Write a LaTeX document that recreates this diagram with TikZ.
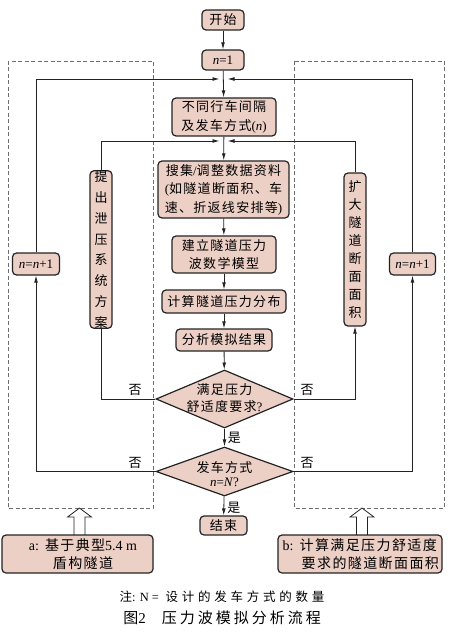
\documentclass[tikz,border=0pt]{standalone}
\usepackage{fontspec}
\setmainfont{Noto Sans CJK SC}[LetterSpace=10]
\newfontfamily\lat{Liberation Serif}
\newfontfamily\cjkplain{Noto Sans CJK SC}
\usetikzlibrary{arrows.meta,shapes.geometric}
\definecolor{boxfill}{RGB}{236,207,197}
\definecolor{lncol}{RGB}{35,35,35}
\definecolor{dashcol}{RGB}{110,110,110}
\newcommand\tr[1]{{\lat #1}}
\newcommand\vchars[2]{\vbox{\baselineskip=#1pt\lineskiplimit=-10pt\def\do##1{\hbox to 13pt{\hss##1\hss}}#2}}
\begin{document}
\begin{tikzpicture}[x=1pt,y=-1pt,
  box/.style={draw=lncol, line width=1.2pt, fill=boxfill, rounded corners=4pt, inner sep=0pt, align=center, font=\fontsize{13}{18.5}\selectfont},
  vbox/.style={draw=lncol, line width=1.2pt, fill=boxfill, rounded corners=4pt, inner sep=0pt, minimum width=22pt, minimum height=153pt, font=\cjkplain\fontsize{13}{18}\selectfont},
  dia/.style={draw=lncol, line width=1.2pt, fill=boxfill, shape=diamond, inner sep=0pt},
  lbl/.style={inner sep=0pt, align=center, font=\fontsize{13}{17}\selectfont},
  wire/.style={draw=lncol, line width=0.8pt},
  ar/.style={wire, -{Latex[length=7pt,width=3.8pt]}},
  dashbox/.style={draw=dashcol, line width=0.8pt, dash pattern=on 4pt off 2.5pt},
  hollow/.style={draw=lncol, line width=0.8pt, fill=white, line join=miter}
]
\useasboundingbox (0,0) rectangle (449,636);

% dashed frames
\draw[dashbox] (8,61) rectangle (153,508);
\draw[dashbox] (294,61) rectangle (444,508);

% main column
\node[box, minimum width=42pt, minimum height=20pt] (start) at (223,20) {开始};
\node[box, minimum width=42pt, minimum height=20pt] (n1) at (223,60) {\tr{\textit{n}=1}};
\node[box, minimum width=104pt, minimum height=38pt] (b1) at (224,117) {不同行车间隔\\及发车方式\tr{(\textit{n})}};
\node[box, minimum width=131pt, minimum height=57pt] (b2) at (223.5,189.5) {搜集\tr{/}调整数据资料\\\tr{(}如隧道断面积、车\\速、折返线安排等\tr{)}};
\node[box, minimum width=104pt, minimum height=37pt] (b3) at (224,254.5) {建立隧道压力\\波数学模型};
\node[box, minimum width=124pt, minimum height=23pt] (b4) at (224,301.5) {计算隧道压力分布};
\node[box, minimum width=96pt, minimum height=22pt] (b5) at (224,340) {分析模拟结果};
\node[dia, minimum width=137pt, minimum height=58pt] (d1) at (224.5,399) {};
\node[lbl] (d1t) at (224.5,398.5) {满足压力\\舒适度要求\tr{?}};
\node[dia, minimum width=137pt, minimum height=49pt] (d2) at (224.5,471.5) {};
\node[lbl] (d2t) at (224.5,474) {发车方式\\[-3pt]\tr{\textit{n}=\textit{N}?}};
\node[box, minimum width=47pt, minimum height=19pt] (end) at (223.5,525.5) {结束};

% side boxes
\node[box, minimum width=47pt, minimum height=22pt] (nl) at (36,264) {\tr{\textit{n}=\textit{n}+1}};
\node[box, minimum width=46pt, minimum height=22pt] (nr) at (412.5,264) {\tr{\textit{n}=\textit{n}+1}};
\node[vbox] (vl) at (101,249.5) {\vchars{20.8}{\do{提}\do{出}\do{泄}\do{压}\do{系}\do{统}\do{方}\do{案}}};
\node[vbox] (vr) at (355,249.5) {\vchars{18}{\do{扩}\do{大}\do{隧}\do{道}\do{断}\do{面}\do{面}\do{积}}};

% junction points
\coordinate (jl) at (219.5,79);
\coordinate (jr) at (227.5,79);
\coordinate (kl) at (219.5,141);
\coordinate (kr) at (227.5,141);

% main flow
\draw[ar] (start) -- (n1);
\draw[ar] (n1) -- (b1);
\draw[ar] (b1) -- (b2);
\draw[ar] (b2) -- (b3);
\draw[ar] (b3) -- (b4);
\draw[ar] (b4) -- (b5);
\draw[ar] (b5) -- (d1);
\draw[ar] (d1) -- node[lbl, right=3pt] (yes1) {是} (d2);
\draw[ar] (d2) -- node[lbl, right=3pt, yshift=-2pt] (yes2) {是} (end);

% loops
\draw[ar] (d2.west) -| (nl.south);
\draw[ar] (nl.north) |- (jl);
\draw[ar] (d2.east) -| (nr.south);
\draw[ar] (nr.north) |- (jr);
\draw[wire] (d1.west) -| (vl.south);
\draw[ar] (vl.north) |- (kl);
\draw[ar] (d1.east) -| (vr.south);
\draw[ar] (vr.north) |- (kr);

\node[lbl] (no1) at (135,390) {否};
\node[lbl] (no2) at (307,390) {否};
\node[lbl] (no3) at (135,463) {否};
\node[lbl] (no4) at (307,463) {否};

% hollow arrows
\draw[hollow] (74,536) -- (74,517) -- (67.5,517) -- (79.5,508) -- (91.5,517) -- (85,517) -- (85,536);
\draw[hollow] (356.5,536) -- (356.5,517) -- (350,517) -- (362,508) -- (374,517) -- (367.5,517) -- (367.5,536);

% bottom boxes
\node[box, minimum width=151pt, minimum height=38pt] (ba) at (77.5,554) {};
\node[lbl, font=\fontsize{14}{18}\selectfont] (bat) at (83,554) {\tr{a:} 基于典型\tr{5.4 m}\\盾构隧道};
\node[box, minimum width=164pt, minimum height=38pt] (bb) at (360,554) {};
\node[lbl, anchor=west, align=left, font=\fontsize{14}{18}\selectfont] (bbt) at (282.5,554) {\tr{b:} 计算满足压力舒适度\\\hspace*{19pt}要求的隧道断面面积};

% captions
\node[lbl, font=\fontsize{12.5}{14}\selectfont\addfontfeature{LetterSpace=30}] (note) at (222,597) {注\tr{: N =} 设计的发车方式的数量};
\node[lbl, font=\fontsize{15}{16}\selectfont\addfontfeature{LetterSpace=20}] (cap) at (222,618) {图\tr{2}\hspace{16pt}压力波模拟分析流程};
\end{tikzpicture}
\end{document}
